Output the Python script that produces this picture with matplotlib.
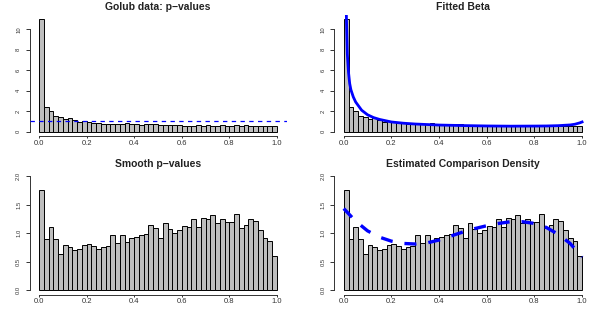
import matplotlib
matplotlib.use("Agg")
import matplotlib.pyplot as plt
import numpy as np

# ---- data ----
bin_edges = np.linspace(0, 1, 51)

pvals_density = [10.97, 2.44, 1.99, 1.53, 1.40, 1.24, 1.30, 1.17, 0.98, 1.01,
                 0.98, 0.85, 0.85, 0.78, 0.72, 0.72, 0.78, 0.72, 0.81, 0.78,
                 0.72, 0.68, 0.72, 0.72, 0.72, 0.70, 0.68, 0.68, 0.62, 0.62,
                 0.60, 0.60, 0.58, 0.62, 0.60, 0.68, 0.56, 0.58, 0.64, 0.58,
                 0.60, 0.62, 0.60, 0.66, 0.58, 0.60, 0.56, 0.60, 0.58, 0.60]

smooth_density = [1.75, 0.89, 1.10, 0.89, 0.63, 0.80, 0.76, 0.71, 0.73, 0.79,
                  0.81, 0.77, 0.72, 0.76, 0.78, 0.96, 0.82, 0.96, 0.84, 0.92,
                  0.93, 0.97, 0.99, 1.15, 1.09, 0.92, 1.17, 1.08, 1.00, 1.06,
                  1.13, 1.10, 1.25, 1.10, 1.26, 1.25, 1.31, 1.17, 1.25, 1.19,
                  1.19, 1.34, 1.09, 1.15, 1.25, 1.21, 1.06, 0.92, 0.86, 0.60]

beta_x = [0.003, 0.006, 0.009, 0.011, 0.015, 0.02, 0.025, 0.03, 0.04, 0.05,
          0.075, 0.1, 0.125, 0.15, 0.2, 0.25, 0.3, 0.4, 0.5, 0.6,
          0.7, 0.8, 0.85, 0.9, 0.95, 0.97, 0.99, 1.0]
beta_y = [30.0, 16.0, 12.5, 11.4, 7.6, 5.8, 4.7, 4.1, 3.4, 2.9,
          2.1, 1.65, 1.38, 1.2, 0.95, 0.83, 0.75, 0.65, 0.6, 0.56,
          0.54, 0.55, 0.56, 0.59, 0.66, 0.73, 0.86, 0.95]

comp_x = [0.0, 0.05, 0.1, 0.15, 0.2, 0.25, 0.3, 0.35, 0.4, 0.45, 0.5,
          0.55, 0.6, 0.65, 0.7, 0.75, 0.8, 0.85, 0.9, 0.95, 1.0]
comp_y = [1.43, 1.21, 1.04, 0.93, 0.86, 0.82, 0.81, 0.83, 0.88, 0.95, 1.02,
          1.08, 1.13, 1.17, 1.20, 1.20, 1.17, 1.10, 0.98, 0.82, 0.58]

x_ticks = [0.0, 0.2, 0.4, 0.6, 0.8, 1.0]
x_labels = ["0.0", "0.2", "0.4", "0.6", "0.8", "1.0"]
y_ticks_top = [0, 2, 4, 6, 8, 10]
y_labels_top = ["0", "2", "4", "6", "8", "10"]
y_ticks_bot = [0.0, 0.5, 1.0, 1.5, 2.0]
y_labels_bot = ["0.0", "0.5", "1.0", "1.5", "2.0"]

titles = ["Golub data: p\u2212values", "Fitted Beta",
          "Smooth p\u2212values", "Estimated Comparison Density"]

# ---- figure ----
W, H = 598, 314
fig = plt.figure(figsize=(W / 100, H / 100), dpi=100)
plt.rcParams['font.family'] = ['Liberation Sans', 'DejaVu Sans']

def make_ax(left, top, right, bottom):
    return fig.add_axes([left / W, 1 - bottom / H, (right - left) / W, (bottom - top) / H])

axes = [make_ax(29.5, 14.8, 286.5, 136.2),
        make_ax(334.2, 14.8, 591.6, 136.2),
        make_ax(29.5, 171.4, 286.5, 294.9),
        make_ax(334.2, 171.4, 591.6, 294.9)]

widths = np.diff(bin_edges)
for i, ax in enumerate(axes):
    vals = pvals_density if i < 2 else smooth_density
    ax.bar(bin_edges[:-1], vals, width=widths, align='edge',
           color='#BEBEBE', edgecolor='black', linewidth=0.7, zorder=2)
    ax.set_xlim(-0.04, 1.04)
    if i < 2:
        ymax = max(pvals_density)
        ax.set_ylim(-0.04 * ymax, 1.04 * ymax)
        ax.set_yticks(y_ticks_top)
        ax.set_yticklabels(y_labels_top)
        ax.spines['left'].set_bounds(0, 10)
    else:
        ax.set_ylim(-0.08, 2.08)
        ax.set_yticks(y_ticks_bot)
        ax.set_yticklabels(y_labels_bot)
        ax.spines['left'].set_bounds(0, 2)
    ax.set_xticks(x_ticks)
    ax.set_xticklabels(x_labels)
    ax.spines['bottom'].set_bounds(0, 1)
    for s in ['top', 'right']:
        ax.spines[s].set_visible(False)
    for s in ['left', 'bottom']:
        ax.spines[s].set_linewidth(0.7)
        ax.spines[s].set_color('#333333')
    ax.tick_params(axis='x', length=1.5, width=0.7, pad=1, labelsize=5.5, colors='#333333')
    ax.tick_params(axis='y', length=3, width=0.7, pad=3, labelsize=4.2, colors='#333333')
    for lab in ax.get_yticklabels():
        lab.set_rotation(90)
        lab.set_va('center')
    ax.set_title(titles[i], fontsize=7.5, fontweight='bold', pad=3.5, color='#222222')
    ax.patch.set_visible(False)

# panel 1: uniform reference line
axes[0].axhline(1.0, color='blue', linestyle=(0, (3.5, 3.5)), linewidth=0.9, zorder=3)

# panel 2: fitted beta
axes[1].plot(beta_x, beta_y, color='blue', linewidth=2.0, zorder=3)

# panel 4: comparison density
axes[3].plot(comp_x, comp_y, color='blue', linewidth=2.4,
             linestyle=(0, (3.6, 3.6)), zorder=3)

fig.savefig("out.png", dpi=100)
